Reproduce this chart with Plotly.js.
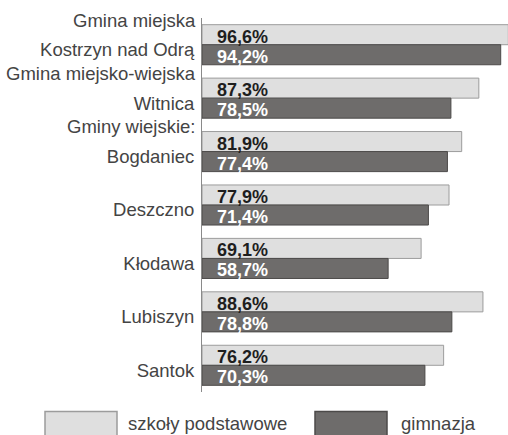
<!DOCTYPE html>
<html>
<head>
<meta charset="utf-8">
<script src="https://cdn.plot.ly/plotly-3.0.1.min.js"></script>
<style>html,body{margin:0;padding:0;background:#fff;}#chart{width:508px;height:435px;}</style>
</head>
<body>
<div id="chart"></div>
<script>
var categories = ['Kostrzyn nad Odrą', 'Witnica', 'Bogdaniec', 'Deszczno', 'Kłodawa', 'Lubiszyn', 'Santok'];
var groupHeaders = ['Gmina miejska', 'Gmina miejsko-wiejska', 'Gminy wiejskie:'];
var seriesNames = ['szkoły podstawowe', 'gimnazja'];
var podstawowe = [96.6, 87.3, 81.9, 77.9, 69.1, 88.6, 76.2];
var gimnazja = [94.2, 78.5, 77.4, 71.4, 58.7, 78.8, 70.3];

var W = 508, H = 435, ML = 202, MR = 0, MT = 18, MB = 43;
var PW = W - ML - MR, PH = H - MT - MB;
function px(x) { return (x - ML) / PW; }
function py(y) { return (H - MB - y) / PH; }

var FONT = "'Liberation Sans', Arial, Helvetica, sans-serif";
var TXT = '#444444';
var lightFill = '#dfdfdf', lightLine = '#9c9c9c';
var darkFill = '#6e6c6b', darkLine = '#4c4a49';

function fmt(v) { return v.toFixed(1).replace('.', ',') + '%'; }

var traces = [
  {type: 'bar', orientation: 'h', name: seriesNames[0], y: categories, x: podstawowe,
   marker: {color: lightFill, line: {color: lightLine, width: 1}}, hoverinfo: 'x+y'},
  {type: 'bar', orientation: 'h', name: seriesNames[1], y: categories, x: gimnazja,
   marker: {color: darkFill, line: {color: darkLine, width: 1}}, hoverinfo: 'x+y'}
];

var bargap = 0.25;
var off = (1 - bargap) / 4;
var annotations = [];
categories.forEach(function (c, i) {
  annotations.push({x: 0, y: i - off, xref: 'x', yref: 'y', text: fmt(podstawowe[i]), showarrow: false,
    xanchor: 'left', yanchor: 'middle', xshift: 13, yshift: -2,
    font: {family: FONT, size: 18, color: '#1e1e1e', weight: 'bold'}});
  annotations.push({x: 0, y: i + off, xref: 'x', yref: 'y', text: fmt(gimnazja[i]), showarrow: false,
    xanchor: 'left', yanchor: 'middle', xshift: 13, yshift: -2,
    font: {family: FONT, size: 18, color: '#ffffff', weight: 'bold'}});
});
groupHeaders.forEach(function (h, i) {
  annotations.push({x: 0, y: i - 0.5, xref: 'paper', yref: 'y', text: h, showarrow: false,
    xanchor: 'right', yanchor: 'middle', xshift: -4, yshift: -2,
    font: {family: FONT, size: 18.5, color: TXT}});
});
// legend
var legendItems = [
  {x0: 45, x1: 117, tx: 126, fill: lightFill, line: lightLine, name: seriesNames[0]},
  {x0: 315, x1: 387, tx: 399, fill: darkFill, line: darkLine, name: seriesNames[1]}
];
var shapes = [];
legendItems.forEach(function (it) {
  shapes.push({type: 'rect', xref: 'paper', yref: 'paper', x0: px(it.x0), x1: px(it.x1), y0: py(411.5), y1: py(437),
    fillcolor: it.fill, line: {color: it.line, width: 1.5}});
  annotations.push({x: px(it.tx), y: py(423), xref: 'paper', yref: 'paper', text: it.name, showarrow: false,
    xanchor: 'left', yanchor: 'middle', font: {family: FONT, size: 18.5, color: TXT}});
});

var layout = {
  width: W, height: H,
  margin: {l: ML, r: MR, t: MT, b: MB, pad: 0},
  paper_bgcolor: '#ffffff', plot_bgcolor: '#ffffff',
  barmode: 'group', bargap: bargap, bargroupgap: 0,
  showlegend: false,
  xaxis: {range: [0, 96.5], visible: false, fixedrange: true},
  yaxis: {type: 'category', categoryarray: categories, range: [6.5, -0.5],
    showline: true, linecolor: '#8a8a8a', linewidth: 1, ticks: '', showgrid: false, zeroline: false,
    ticklabelshift: -5, ticklabelstandoff: 3,
    tickfont: {family: FONT, size: 18.5, color: TXT}, fixedrange: true},
  annotations: annotations,
  shapes: shapes,
  font: {family: FONT}
};

Plotly.newPlot('chart', traces, layout, {displayModeBar: false, staticPlot: true});
</script>
</body>
</html>
